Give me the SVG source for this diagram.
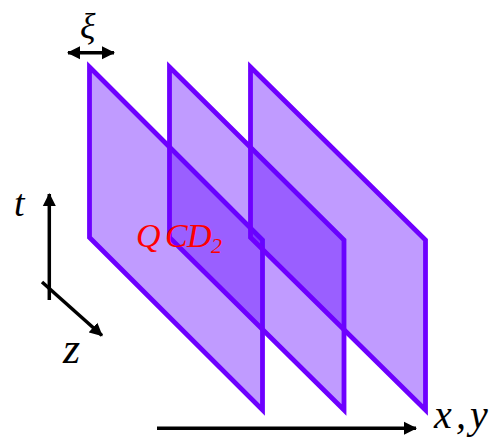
<svg xmlns="http://www.w3.org/2000/svg" width="503" height="439" viewBox="0 0 503 439">
<style>
.plane{fill:#6104ff;fill-opacity:0.4;stroke:#6e00ff;stroke-width:4.8;stroke-linejoin:miter;stroke-miterlimit:10}
.ax{stroke:#000;stroke-width:3.5;fill:none}
.lbl{font-family:"Liberation Serif",serif;font-style:italic;fill:#000}
.red{font-family:"Liberation Serif",serif;font-style:italic;fill:#ff0000}
</style>
<defs>
<marker id="ah" markerUnits="userSpaceOnUse" markerWidth="14" markerHeight="14" viewBox="0 0 14 14" refX="12" refY="7" orient="auto-start-reverse">
<path d="M0,0.5 L13,7 L0,13.5 Z" fill="#000"/>
</marker>
</defs>
<rect width="503" height="439" fill="#fff"/>
<g id="plane1"><polygon class="plane" points="89.5,67 262.5,240 262.5,410 89.5,237.5"/></g>
<g id="plane2"><polygon class="plane" points="169.5,67 344,240 344,410 169.5,237.5"/></g>
<g id="plane3"><polygon class="plane" points="250.5,67 425.5,240 425.5,410 250.5,237.5"/></g>
<g id="connectors">
<line class="ax" x1="49.3" y1="300" x2="49.3" y2="194" marker-end="url(#ah)"/>
<line class="ax" x1="42" y1="282" x2="102" y2="335.5" marker-end="url(#ah)"/>
<line class="ax" x1="157" y1="428.3" x2="416" y2="428.3" marker-end="url(#ah)"/>
<line class="ax" x1="68" y1="52.7" x2="114" y2="52.7" marker-start="url(#ah)" marker-end="url(#ah)"/>
</g>
<g id="labels">
<text class="lbl" x="14" y="216" font-size="38">t</text>
<text class="lbl" x="63" y="363" font-size="44">z</text>
<text class="lbl" x="434 456 470" y="428" font-size="40">x,y</text>
<text class="lbl" x="80" y="38" font-size="36">ξ</text>
<text class="red" x="136 165 187" y="247" font-size="34">QCD</text>
<text class="red" x="211" y="253" font-size="22">2</text>
</g>
</svg>
